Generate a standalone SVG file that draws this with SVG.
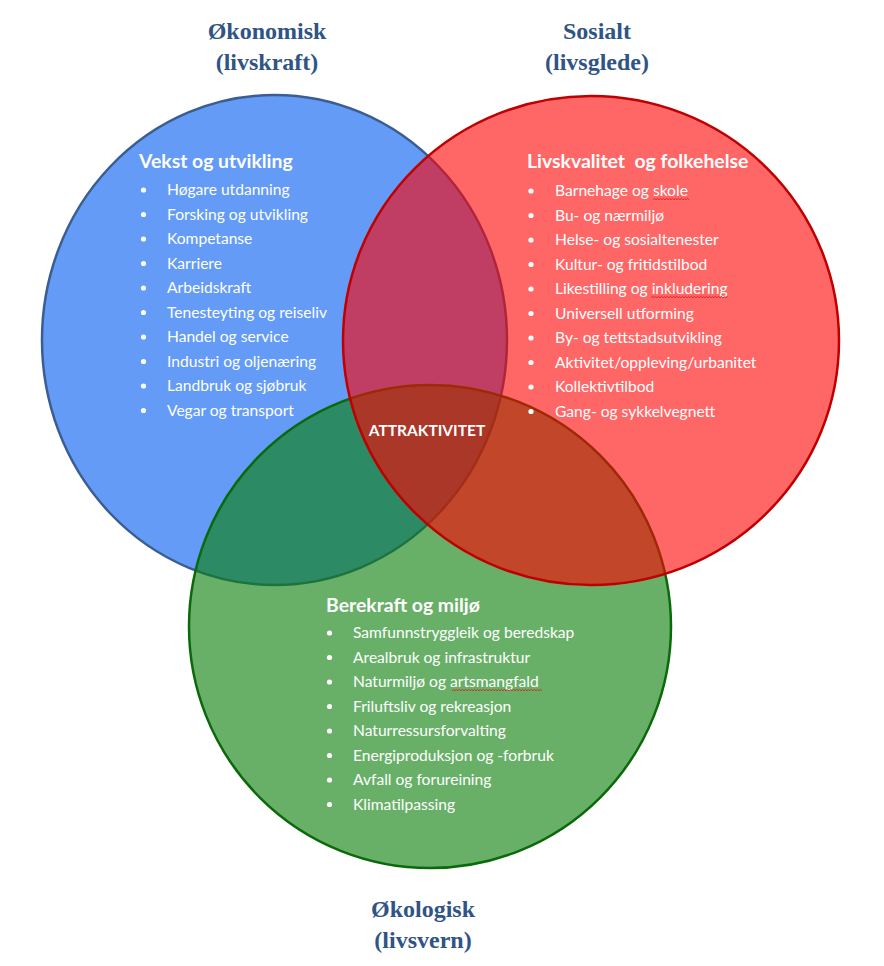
<svg xmlns="http://www.w3.org/2000/svg" width="884" height="966" viewBox="0 0 884 966">
<style>
.title{font-family:"Liberation Serif","Times New Roman",serif;font-weight:bold;font-size:24px;fill:#2f5485;text-anchor:middle}
.head{font-family:Lato,"Open Sans",sans-serif;font-weight:bold;font-size:19.4px;fill:#ffffff;white-space:pre}
.item{font-family:Lato,"Open Sans",sans-serif;font-size:15.6px;fill:#ffffff}
.bul{fill:#ffffff}
.center{font-family:Lato,"Open Sans",sans-serif;font-weight:bold;font-size:15.5px;fill:#ffffff;text-anchor:middle}
.squig{fill:none;stroke:#e02020;stroke-width:0.9}
</style>
<rect width="884" height="966" fill="#ffffff"/>

<g id="circle-okonomisk">
<ellipse cx="274.5" cy="340" rx="232.5" ry="245" fill="#639bf7" stroke="#3b5d92" stroke-width="2.5"/>
</g>
<g id="circle-okologisk">
<ellipse cx="430" cy="626.5" rx="241" ry="241.5" fill="#0b7f0b" fill-opacity="0.62" stroke="#0a6a0a" stroke-width="2.5"/>
</g>
<g id="circle-sosialt">
<ellipse cx="591" cy="340.5" rx="248" ry="244.5" fill="#ff0000" fill-opacity="0.6" stroke="#c00000" stroke-width="2.5"/>
</g>

<g id="title-okonomisk">
<text class="title" x="267" y="39">Økonomisk</text>
<text class="title" x="267" y="70">(livskraft)</text>
</g>
<g id="title-sosialt">
<text class="title" x="597" y="39">Sosialt</text>
<text class="title" x="597" y="70">(livsglede)</text>
</g>
<g id="title-okologisk">
<text class="title" x="423" y="917">Økologisk</text>
<text class="title" x="423" y="948">(livsvern)</text>
</g>

<g id="list-okonomisk">
<text class="head" x="139" y="168">Vekst og utvikling</text>
<g class="bul">
<circle cx="143.5" cy="190" r="2.6"/><circle cx="143.5" cy="214.5" r="2.6"/><circle cx="143.5" cy="239" r="2.6"/><circle cx="143.5" cy="263.5" r="2.6"/><circle cx="143.5" cy="288" r="2.6"/><circle cx="143.5" cy="312.5" r="2.6"/><circle cx="143.5" cy="337" r="2.6"/><circle cx="143.5" cy="361.5" r="2.6"/><circle cx="143.5" cy="386" r="2.6"/><circle cx="143.5" cy="410.5" r="2.6"/>
</g>
<text class="item" x="167" y="195">Høgare utdanning</text>
<text class="item" x="167" y="219.5">Forsking og utvikling</text>
<text class="item" x="167" y="244">Kompetanse</text>
<text class="item" x="167" y="268.5">Karriere</text>
<text class="item" x="167" y="293">Arbeidskraft</text>
<text class="item" x="167" y="317.5">Tenesteyting og reiseliv</text>
<text class="item" x="167" y="342">Handel og service</text>
<text class="item" x="167" y="366.5">Industri og oljenæring</text>
<text class="item" x="167" y="391">Landbruk og sjøbruk</text>
<text class="item" x="167" y="415.5">Vegar og transport</text>
</g>

<g id="list-sosialt">
<text class="head" x="527" y="168">Livskvalitet  og folkehelse</text>
<g class="bul">
<circle cx="531" cy="191" r="2.6"/><circle cx="531" cy="215.5" r="2.6"/><circle cx="531" cy="240" r="2.6"/><circle cx="531" cy="264.5" r="2.6"/><circle cx="531" cy="289" r="2.6"/><circle cx="531" cy="313.5" r="2.6"/><circle cx="531" cy="338" r="2.6"/><circle cx="531" cy="362.5" r="2.6"/><circle cx="531" cy="387" r="2.6"/><circle cx="531" cy="411.5" r="2.6"/>
</g>
<text class="item" x="555" y="196">Barnehage og skole</text>
<text class="item" x="555" y="220.5">Bu- og nærmiljø</text>
<text class="item" x="555" y="245">Helse- og sosialtenester</text>
<text class="item" x="555" y="269.5">Kultur- og fritidstilbod</text>
<text class="item" x="555" y="294">Likestilling og inkludering</text>
<text class="item" x="555" y="318.5">Universell utforming</text>
<text class="item" x="555" y="343">By- og tettstadsutvikling</text>
<text class="item" x="555" y="367.5">Aktivitet/oppleving/urbanitet</text>
<text class="item" x="555" y="392">Kollektivtilbod</text>
<text class="item" x="555" y="416.5">Gang- og sykkelvegnett</text>
<path class="squig" d="M653,199.8 l1.5,-1.4 l1.5,1.4 l1.5,-1.4 l1.5,1.4 l1.5,-1.4 l1.5,1.4 l1.5,-1.4 l1.5,1.4 l1.5,-1.4 l1.5,1.4 l1.5,-1.4 l1.5,1.4 l1.5,-1.4 l1.5,1.4 l1.5,-1.4 l1.5,1.4 l1.5,-1.4 l1.5,1.4 l1.5,-1.4 l1.5,1.4 l1.5,-1.4 l1.5,1.4 l1.5,-1.4 l1.5,1.4"/>
<path class="squig" d="M651,297.8 l1.5,-1.4 l1.5,1.4 l1.5,-1.4 l1.5,1.4 l1.5,-1.4 l1.5,1.4 l1.5,-1.4 l1.5,1.4 l1.5,-1.4 l1.5,1.4 l1.5,-1.4 l1.5,1.4 l1.5,-1.4 l1.5,1.4 l1.5,-1.4 l1.5,1.4 l1.5,-1.4 l1.5,1.4 l1.5,-1.4 l1.5,1.4 l1.5,-1.4 l1.5,1.4 l1.5,-1.4 l1.5,1.4 l1.5,-1.4 l1.5,1.4 l1.5,-1.4 l1.5,1.4 l1.5,-1.4 l1.5,1.4 l1.5,-1.4 l1.5,1.4 l1.5,-1.4 l1.5,1.4 l1.5,-1.4 l1.5,1.4 l1.5,-1.4 l1.5,1.4 l1.5,-1.4 l1.5,1.4 l1.5,-1.4 l1.5,1.4 l1.5,-1.4 l1.5,1.4 l1.5,-1.4 l1.5,1.4 l1.5,-1.4 l1.5,1.4 l1.5,-1.4 l1.5,1.4 l1.5,-1.4"/>
</g>

<g id="list-okologisk">
<text class="head" x="326" y="612">Berekraft og miljø</text>
<g class="bul">
<circle cx="329.5" cy="633" r="2.6"/><circle cx="329.5" cy="657.5" r="2.6"/><circle cx="329.5" cy="682" r="2.6"/><circle cx="329.5" cy="706.5" r="2.6"/><circle cx="329.5" cy="731" r="2.6"/><circle cx="329.5" cy="755.5" r="2.6"/><circle cx="329.5" cy="780" r="2.6"/><circle cx="329.5" cy="804.5" r="2.6"/>
</g>
<text class="item" x="353" y="638">Samfunnstryggleik og beredskap</text>
<text class="item" x="353" y="662.5">Arealbruk og infrastruktur</text>
<text class="item" x="353" y="687">Naturmiljø og artsmangfald</text>
<text class="item" x="353" y="711.5">Friluftsliv og rekreasjon</text>
<text class="item" x="353" y="736">Naturressursforvalting</text>
<text class="item" x="353" y="760.5">Energiproduksjon og -forbruk</text>
<text class="item" x="353" y="785">Avfall og forureining</text>
<text class="item" x="353" y="809.5">Klimatilpassing</text>
<path class="squig" d="M452,690.8 l1.5,-1.4 l1.5,1.4 l1.5,-1.4 l1.5,1.4 l1.5,-1.4 l1.5,1.4 l1.5,-1.4 l1.5,1.4 l1.5,-1.4 l1.5,1.4 l1.5,-1.4 l1.5,1.4 l1.5,-1.4 l1.5,1.4 l1.5,-1.4 l1.5,1.4 l1.5,-1.4 l1.5,1.4 l1.5,-1.4 l1.5,1.4 l1.5,-1.4 l1.5,1.4 l1.5,-1.4 l1.5,1.4 l1.5,-1.4 l1.5,1.4 l1.5,-1.4 l1.5,1.4 l1.5,-1.4 l1.5,1.4 l1.5,-1.4 l1.5,1.4 l1.5,-1.4 l1.5,1.4 l1.5,-1.4 l1.5,1.4 l1.5,-1.4 l1.5,1.4 l1.5,-1.4 l1.5,1.4 l1.5,-1.4 l1.5,1.4 l1.5,-1.4 l1.5,1.4 l1.5,-1.4 l1.5,1.4 l1.5,-1.4 l1.5,1.4 l1.5,-1.4 l1.5,1.4 l1.5,-1.4 l1.5,1.4 l1.5,-1.4 l1.5,1.4 l1.5,-1.4 l1.5,1.4 l1.5,-1.4 l1.5,1.4 l1.5,-1.4 l1.5,1.4"/>
</g>

<g id="center-label">
<text class="center" x="427" y="436">ATTRAKTIVITET</text>
</g>
</svg>
